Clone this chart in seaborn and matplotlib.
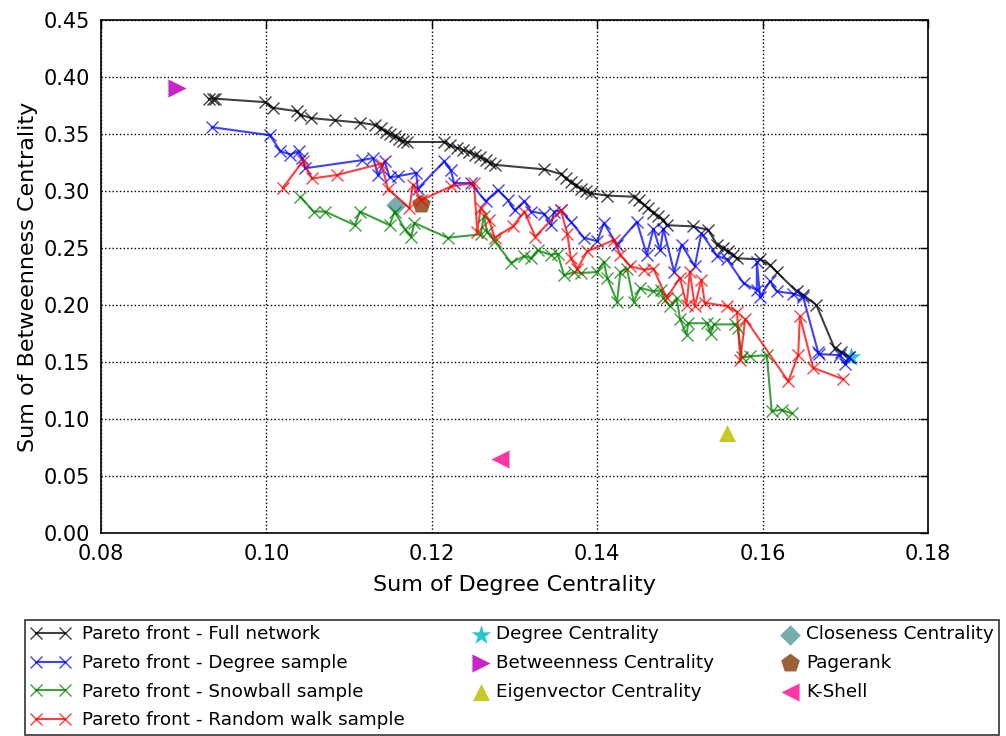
import matplotlib
matplotlib.use('Agg')
import matplotlib.pyplot as plt
from matplotlib.legend_handler import HandlerPathCollection
import seaborn as sns

# Pareto fronts (sum of degree centrality, sum of betweenness centrality)
full_x = [0.0930, 0.0935, 0.0938, 0.0998, 0.1008, 0.1037, 0.1041, 0.1054, 0.1083, 0.1113,
          0.1131, 0.1138, 0.1145, 0.1150, 0.1155, 0.1160, 0.1165, 0.1170, 0.1215, 0.1222,
          0.1230, 0.1238, 0.1245, 0.1252, 0.1258, 0.1265, 0.1270, 0.1276, 0.1336, 0.1356,
          0.1362, 0.1368, 0.1374, 0.1380, 0.1386, 0.1392, 0.1412, 0.1444, 0.1450, 0.1456,
          0.1462, 0.1468, 0.1474, 0.1480, 0.1484, 0.1516, 0.1534, 0.1545, 0.1552, 0.1558,
          0.1564, 0.1569, 0.1597, 0.1609, 0.1617, 0.1641, 0.1649, 0.1665, 0.1687, 0.1695,
          0.1705]
full_y = [0.381, 0.381, 0.381, 0.378, 0.373, 0.370, 0.367, 0.364, 0.362, 0.360,
          0.358, 0.355, 0.352, 0.350, 0.348, 0.346, 0.344, 0.343, 0.343, 0.340,
          0.338, 0.336, 0.334, 0.332, 0.330, 0.327, 0.325, 0.323, 0.319, 0.315,
          0.311, 0.308, 0.305, 0.302, 0.300, 0.298, 0.296, 0.295, 0.292, 0.288,
          0.285, 0.281, 0.278, 0.275, 0.270, 0.269, 0.266, 0.253, 0.250, 0.247,
          0.244, 0.241, 0.240, 0.235, 0.229, 0.212, 0.209, 0.200, 0.162, 0.159,
          0.154]

degree_x = [0.0934, 0.1004, 0.1017, 0.1029, 0.1039, 0.1043, 0.1047, 0.1115, 0.1129, 0.1135,
            0.1143, 0.1149, 0.1159, 0.1181, 0.1183, 0.1215, 0.1223, 0.1227, 0.1247, 0.1265,
            0.1280, 0.1292, 0.1300, 0.1312, 0.1320, 0.1336, 0.1344, 0.1348, 0.1356, 0.1368,
            0.1384, 0.1400, 0.1408, 0.1424, 0.1448, 0.1460, 0.1468, 0.1476, 0.1480, 0.1493,
            0.1502, 0.1518, 0.1526, 0.1545, 0.1557, 0.1577, 0.1593, 0.1593, 0.1597, 0.1609,
            0.1617, 0.1637, 0.1649, 0.1667, 0.1668, 0.1693, 0.1700, 0.1705]
degree_y = [0.356, 0.349, 0.335, 0.332, 0.335, 0.329, 0.320, 0.327, 0.329, 0.314,
            0.326, 0.312, 0.313, 0.316, 0.302, 0.326, 0.318, 0.307, 0.307, 0.291,
            0.301, 0.292, 0.283, 0.291, 0.282, 0.280, 0.270, 0.282, 0.283, 0.273,
            0.259, 0.256, 0.272, 0.253, 0.273, 0.244, 0.267, 0.248, 0.267, 0.229,
            0.253, 0.234, 0.263, 0.243, 0.240, 0.219, 0.213, 0.238, 0.207, 0.221,
            0.212, 0.210, 0.207, 0.159, 0.157, 0.156, 0.148, 0.154]

snowball_x = [0.1041, 0.1057, 0.1071, 0.1107, 0.1113, 0.1149, 0.1155, 0.1167, 0.1175, 0.1179,
              0.1219, 0.1259, 0.1263, 0.1267, 0.1276, 0.1296, 0.1312, 0.1320, 0.1328, 0.1344,
              0.1352, 0.1360, 0.1372, 0.1380, 0.1400, 0.1408, 0.1412, 0.1424, 0.1428, 0.1436,
              0.1444, 0.1452, 0.1468, 0.1477, 0.1480, 0.1488, 0.1496, 0.1500, 0.1508, 0.1510,
              0.1533, 0.1537, 0.1541, 0.1567, 0.1570, 0.1575, 0.1585, 0.1605, 0.1611, 0.1623,
              0.1635]
snowball_y = [0.295, 0.282, 0.282, 0.270, 0.282, 0.270, 0.282, 0.267, 0.260, 0.272,
              0.259, 0.262, 0.278, 0.264, 0.256, 0.237, 0.243, 0.241, 0.248, 0.244,
              0.245, 0.226, 0.229, 0.228, 0.229, 0.238, 0.224, 0.203, 0.229, 0.232,
              0.203, 0.215, 0.212, 0.213, 0.206, 0.199, 0.206, 0.188, 0.174, 0.184,
              0.184, 0.175, 0.183, 0.183, 0.180, 0.154, 0.155, 0.156, 0.107, 0.108,
              0.105]

rwalk_x = [0.1020, 0.1044, 0.1055, 0.1085, 0.1139, 0.1147, 0.1173, 0.1177, 0.1187, 0.1223,
           0.1251, 0.1255, 0.1259, 0.1269, 0.1276, 0.1298, 0.1312, 0.1325, 0.1356, 0.1364,
           0.1368, 0.1376, 0.1388, 0.1420, 0.1428, 0.1440, 0.1456, 0.1468, 0.1484, 0.1500,
           0.1508, 0.1512, 0.1518, 0.1526, 0.1530, 0.1557, 0.1569, 0.1573, 0.1579, 0.1631,
           0.1643, 0.1645, 0.1661, 0.1697]
rwalk_y = [0.303, 0.326, 0.311, 0.314, 0.324, 0.302, 0.285, 0.305, 0.292, 0.304,
           0.307, 0.264, 0.285, 0.275, 0.259, 0.269, 0.282, 0.260, 0.283, 0.262,
           0.241, 0.232, 0.247, 0.257, 0.244, 0.234, 0.231, 0.232, 0.206, 0.224,
           0.200, 0.229, 0.199, 0.222, 0.202, 0.199, 0.194, 0.152, 0.188, 0.133,
           0.156, 0.190, 0.145, 0.135]

# single centrality heuristics
heur_names = ['Degree Centrality', 'Betweenness Centrality', 'Eigenvector Centrality',
              'Closeness Centrality', 'Pagerank', 'K-Shell']
heur_x = [0.1707, 0.0892, 0.1557, 0.1157, 0.1187, 0.1282]
heur_y = [0.154, 0.390, 0.088, 0.288, 0.289, 0.065]


class RightMarker(HandlerPathCollection):
    # put the single legend marker near the text, like the old matplotlib legend
    def get_xdata(self, legend, xdescent, ydescent, width, height, fontsize):
        return [-xdescent, -xdescent + width], [-xdescent + width - 0.25 * fontsize]


sns.set_style('white', rc={'text.color': 'black', 'axes.labelcolor': 'black',
                           'xtick.color': 'black', 'ytick.color': 'black',
                           'axes.edgecolor': 'black'})
plt.rcParams['font.family'] = ['DejaVu Sans']
plt.rcParams['xtick.direction'] = 'in'
plt.rcParams['ytick.direction'] = 'in'

fig = plt.figure(figsize=(10.06, 7.36), dpi=100)
ax = fig.add_axes([0.1004, 0.2758, 0.8221, 0.6970])

fronts = [
    (full_x, full_y, 'black', 'Pareto front - Full network'),
    (degree_x, degree_y, 'blue', 'Pareto front - Degree sample'),
    (snowball_x, snowball_y, 'green', 'Pareto front - Snowball sample'),
    (rwalk_x, rwalk_y, 'red', 'Pareto front - Random walk sample'),
]
for xs, ys, col, lab in fronts:
    sns.lineplot(x=xs, y=ys, ax=ax, sort=False, estimator=None, color=col, alpha=0.75,
                 linewidth=1.5, marker='x', markersize=9, markeredgewidth=1.0,
                 markeredgecolor=col, label=lab)

styles = [('c', '*'), ('m', '>'), ('y', '^'), ('cadetblue', 'D'), ('saddlebrown', 'p'), ('deeppink', '<')]
sizes = [220, 170, 150, 110, 200, 170]
for name, xv, yv, (col, mk), sz in zip(heur_names, heur_x, heur_y, styles, sizes):
    sns.scatterplot(x=[xv], y=[yv], ax=ax, color=col, marker=mk, s=sz, linewidth=0,
                    alpha=0.85, label=name)

ax.set_xlim(0.08, 0.18)
ax.set_ylim(0.0, 0.45)
ax.set_xticks([0.08, 0.10, 0.12, 0.14, 0.16, 0.18])
ax.set_yticks([0.00, 0.05, 0.10, 0.15, 0.20, 0.25, 0.30, 0.35, 0.40, 0.45])
ax.xaxis.set_major_formatter(matplotlib.ticker.FormatStrFormatter('%.2f'))
ax.yaxis.set_major_formatter(matplotlib.ticker.FormatStrFormatter('%.2f'))
ax.tick_params(axis='both', which='both', labelsize=15, top=True, right=True,
               length=6, width=1, color='black', pad=8)
ax.grid(True, color='black', linestyle=':', linewidth=1)
for sp in ax.spines.values():
    sp.set_color('black')
    sp.set_linewidth(1.2)
ax.set_xlabel('Sum of Degree Centrality', fontsize=16, labelpad=8)
ax.set_ylabel('Sum of Betweenness Centrality', fontsize=16, labelpad=4)

handles, labels = ax.get_legend_handles_labels()
ax.get_legend().remove()
leg = fig.legend(handles, labels, loc='lower left', bbox_to_anchor=(0.0249, 0.0015),
                 ncol=3, fontsize=13.2, numpoints=2, scatterpoints=1,
                 frameon=True, fancybox=False, edgecolor='black', borderaxespad=0,
                 borderpad=0.3, handlelength=2.2, handletextpad=0.6,
                 labelspacing=0.58, columnspacing=2.2,
                 handler_map={matplotlib.collections.PathCollection: RightMarker()})
leg.get_frame().set_linewidth(1.2)

fig.savefig('out.png', dpi=100)
